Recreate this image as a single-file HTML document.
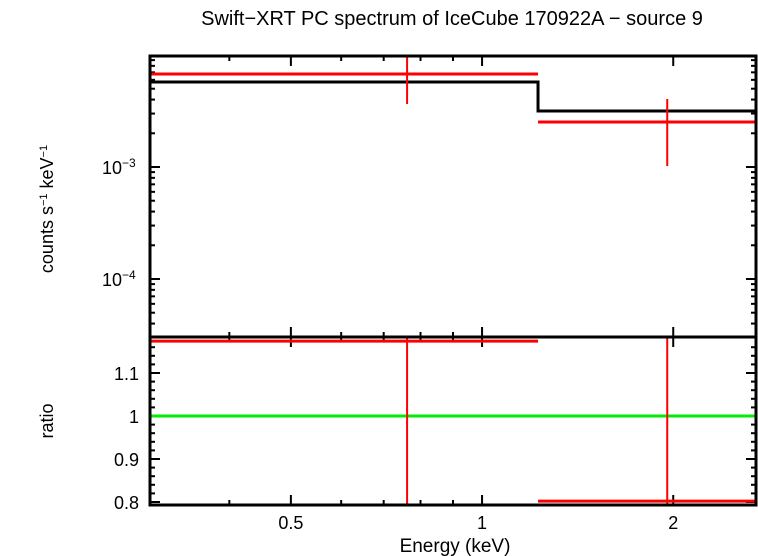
<!DOCTYPE html>
<html><head><meta charset="utf-8"><style>
body{margin:0;background:#fff;}
svg{display:block;font-family:"Liberation Sans",sans-serif;}
</style></head><body>
<svg id="c" width="758" height="556"></svg>
<script>
const binLo=[0.3,1.225];
const binHi=[1.225,2.70];
const dataE=[0.762,1.957];
const dataRate=[6.76e-3,2.52e-3];
const errLo=[3.65e-3,1.02e-3];
const errHi=[9.6e-3,4.05e-3];
const modelRate=[5.74e-3,3.16e-3];
const ratioVal=[1.174,0.802];
const ratioLo=[0.79,0.79];
const ratioHi=[1.19,1.19];
const xTickLabels=[0.5,1,2];
const yTopLabels=[-3,-4];
const yRatioLabels=[0.8,0.9,1,1.1];

const NS="http://www.w3.org/2000/svg";
const svg=document.getElementById('c');
const L=150,R=756,T=56,M=337,B=505;
const xmin=0.3,xmax=2.70;
const X=e=>L+(Math.log10(e)-Math.log10(xmin))/(Math.log10(xmax)-Math.log10(xmin))*(R-L);
const Yt=v=>167-(Math.log10(v)+3)*112;
const Yr=v=>416-(v-1)*430;
function el(tag,a,name){const e=document.createElementNS(NS,tag);for(const k in a)e.setAttribute(k,a[k]);


svg.appendChild(e);return e;}
function line(x1,y1,x2,y2,c,w,name){return el('line',{x1,y1,x2,y2,stroke:c,'stroke-width':w},name);}
function text(x,y,s,name,extra){const t=el('text',Object.assign({x,y,'font-size':18,fill:'#000'},extra||{}),name);t.textContent=s;return t;}

// title
text(452,25,'Swift\u2212XRT PC spectrum of IceCube 170922A \u2212 source 9','chart-title',{'text-anchor':'middle','font-size':20});

// x ticks
const minorX=[0.3,0.4,0.5,0.6,0.7,0.8,0.9,1,2];
for(const e of minorX){const x=X(e);const big=xTickLabels.includes(e);const h=big?10:5;
 [T,M].forEach(y0=>{line(x,y0,x,y0+h,'#000',2,'x-tick');});
 [M,B].forEach(y0=>{line(x,y0,x,y0-h,'#000',2,'x-tick');});
}
xTickLabels.forEach(v=>text(X(v),529,String(v),'x-tick-label',{'text-anchor':'middle'}));
text(455,552,'Energy (keV)','x-axis-title',{'text-anchor':'middle','font-size':19});

// top y ticks
for(let d=-5;d<=-2;d++)for(let m=1;m<10;m++){const v=m*Math.pow(10,d);const y=Yt(v);if(y<T||y>M)continue;const h=m==1?10:5;
 line(L,y,L+h,y,'#000',2,'y-tick');line(R,y,R-h,y,'#000',2,'y-tick');}
yTopLabels.forEach(p=>{const t=text(102,Yt(Math.pow(10,p))+7,'10','y-tick-label');const s=document.createElementNS(NS,'tspan');s.setAttribute('dy','-7');s.setAttribute('font-size','12');s.textContent='\u2212'+(-p);t.appendChild(s);});
const yt=text(0,0,'','y-axis-title',{transform:'translate(53,209) rotate(-90)','text-anchor':'middle'});
yt.innerHTML='counts s<tspan dy="-6" font-size="11">\u22121</tspan><tspan dy="6"> keV</tspan><tspan dy="-6" font-size="11">\u22121</tspan>';

// ratio y ticks
for(let v=0.8;v<=1.18;v+=0.02){const y=Yr(v);const big=Math.abs(v*10-Math.round(v*10))<1e-6;const h=big?10:5;
 line(L,y,L+h,y,'#000',2,'ratio-tick');line(R,y,R-h,y,'#000',2,'ratio-tick');}
yRatioLabels.forEach(v=>text(139,Yr(v)+7,String(v),'ratio-tick-label',{'text-anchor':'end'}));
text(0,0,'ratio','ratio-axis-title',{transform:'translate(53,421) rotate(-90)','text-anchor':'middle'});

// model
let d='';
for(let i=0;i<binLo.length;i++){const y=Yt(modelRate[i]);d+=(i?'L':'M')+X(binLo[i])+','+y+'L'+X(binHi[i])+','+y;}
el('path',{d,fill:'none',stroke:'#000','stroke-width':3},'model-line');

// data
for(let i=0;i<dataE.length;i++){
 line(X(binLo[i]),Yt(dataRate[i]),X(binHi[i]),Yt(dataRate[i]),'#f00',3,'data-bin');
 line(X(dataE[i]),Yt(Math.min(errHi[i],1e-2)),X(dataE[i]),Yt(errLo[i]),'#f00',2,'data-error');
}
// ratio
line(L,Yr(1),R,Yr(1),'#0e0',3,'unity-line');
for(let i=0;i<dataE.length;i++){
 line(X(binLo[i]),Yr(ratioVal[i]),X(binHi[i]),Yr(ratioVal[i]),'#f00',3,'ratio-bin');
 line(X(dataE[i]),Math.max(Yr(ratioHi[i]),M),X(dataE[i]),Math.min(Yr(ratioLo[i]),B),'#f00',2,'ratio-error');
}
// frames
el('rect',{x:L,y:T,width:R-L,height:M-T,fill:'none',stroke:'#000','stroke-width':3},'top-panel-frame');
el('rect',{x:L,y:M,width:R-L,height:B-M,fill:'none',stroke:'#000','stroke-width':3},'ratio-panel-frame');
</script>
</body></html>
